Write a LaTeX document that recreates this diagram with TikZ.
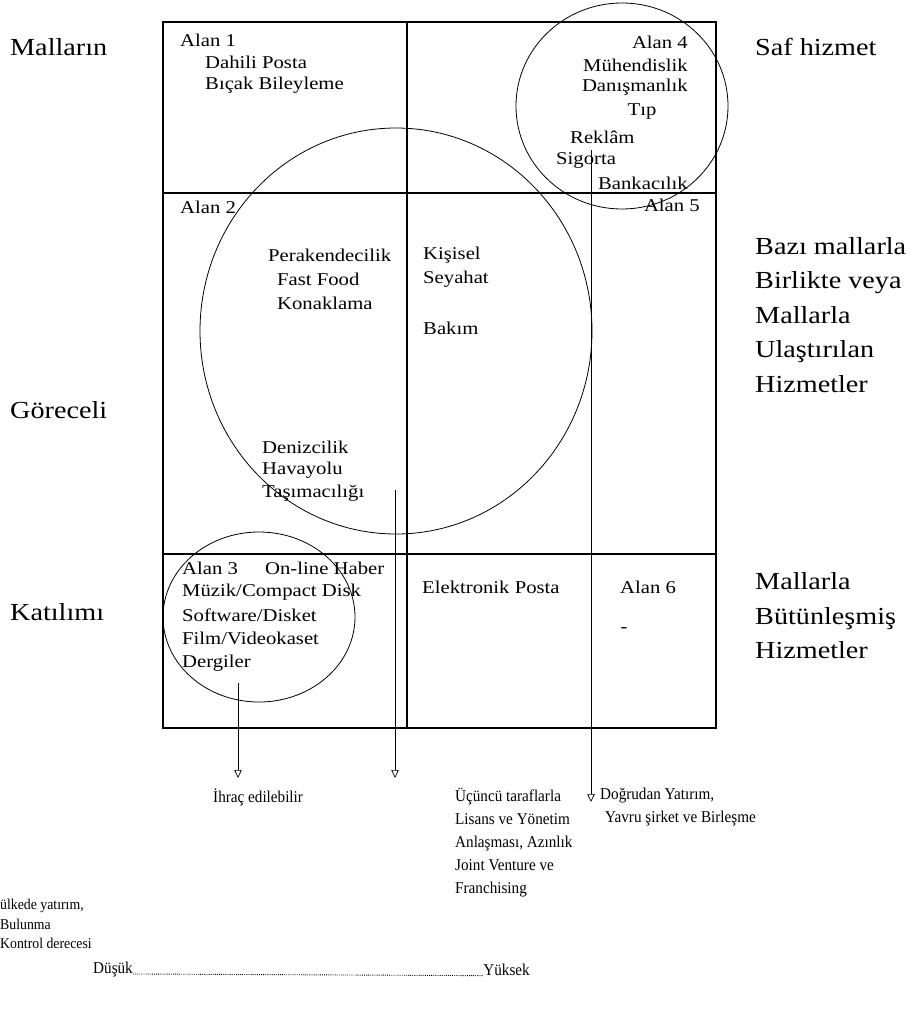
\documentclass[tikz,border=0pt]{standalone}
\usepackage{fontspec}
\setmainfont{Liberation Serif}[FakeStretch=1.15]
\newfontfamily\narrowserif{Liberation Serif}[FakeStretch=0.92]
\usetikzlibrary{positioning, arrows.meta}

\begin{document}
\begin{tikzpicture}[
  x=1pt, y=-1pt,
  cell/.style={inner sep=0pt, font=\fontsize{18}{22}\selectfont},
  side/.style={inner sep=0pt, align=left, font=\fontsize{24.5}{34.5}\selectfont},
  note/.style={inner sep=0pt, align=left, font=\narrowserif\fontsize{16.5}{23}\selectfont},
  frame/.style={line width=1.5pt},
  ring/.style={line width=0.8pt},
  arrow/.style={-{Triangle[open, length=8pt, width=7.5pt]}, line width=0.7pt},
]
\useasboundingbox (0,0) rectangle (913,1020);

% side labels
\node[side, anchor=west] (mallarin) at (10,47)  {Malların};
\node[side, anchor=west] (goreceli) at (10,410) {Göreceli};
\node[side, anchor=west] (katilimi) at (10,612) {Katılımı};
\node[side, anchor=west] (saf)      at (755,47)  {Saf hizmet};
\node[side, anchor=west] (bazi)     at (755,315) {Bazı mallarla\\Birlikte veya\\Mallarla\\Ulaştırılan\\Hizmetler};
\node[side, anchor=west] (butun)    at (755,616) {Mallarla\\Bütünleşmiş\\Hizmetler};

% grid of six areas
\draw[frame] (163,22) rectangle (716,728);
\draw[frame] (163,193) -- (716,193);
\draw[frame] (163,554) -- (716,554);
\draw[frame] (407,22) -- (407,728);

% circles
\draw[ring] (396,331) ellipse [x radius=196, y radius=203];
\draw[ring] (622,106) ellipse [x radius=106, y radius=103];
\draw[ring] (259,617) ellipse [x radius=96, y radius=85];

% Alan 1
\node[cell, anchor=west] (alan1)  at (180,40) {Alan 1};
\node[cell, anchor=west] (dahili) at (205,62) {Dahili Posta};
\node[cell, anchor=west] (bicak)  at (205,85) {Bıçak Bileyleme};

% Alan 4
\node[cell, anchor=east] (alan4)   at (688,42)  {Alan 4};
\node[cell, anchor=east] (muhendis) at (688,65) {Mühendislik};
\node[cell, anchor=east] (danis)   at (688,87)  {Danışmanlık};
\node[cell]              (tip)     at (642,112) {Tıp};
\node[cell, anchor=west] (reklam)  at (570,137) {Reklâm};
\node[cell, anchor=west] (sigorta) at (556,160) {Sigorta};
\node[cell, anchor=east] (banka)   at (688,183) {Bankacılık};

% Alan 2 and 5
\node[cell, anchor=west] (alan2)   at (180,207) {Alan 2};
\node[cell, anchor=east] (alan5)   at (700,205) {Alan 5};
\node[cell, anchor=west] (perak)   at (268,255) {Perakendecilik};
\node[cell, anchor=west] (fast)    at (277,279) {Fast Food};
\node[cell, anchor=west] (konak)   at (277,303) {Konaklama};
\node[cell, anchor=west] (kisisel) at (423,255) {Kişisel};
\node[cell, anchor=west] (seyahat) at (423,279) {Seyahat};
\node[cell, anchor=west] (bakim)   at (423,328) {Bakım};
\node[cell, anchor=west] (deniz)   at (262,447) {Denizcilik};
\node[cell, anchor=west] (havayolu) at (262,470) {Havayolu};
\node[cell, anchor=west] (tasima)  at (262,493) {Taşımacılığı};

% Alan 3 and 6
\node[cell, anchor=west] (alan3)  at (182,568) {Alan 3};
\node[cell, anchor=west] (online) at (265,568) {On-line Haber};
\node[cell, anchor=west] (muzik)  at (182,592) {Müzik/Compact Disk};
\node[cell, anchor=west] (soft)   at (182,615) {Software/Disket};
\node[cell, anchor=west] (film)   at (182,638) {Film/Videokaset};
\node[cell, anchor=west] (dergi)  at (182,663) {Dergiler};
\node[cell, anchor=west] (eposta) at (422,587) {Elektronik Posta};
\node[cell, anchor=west] (alan6)  at (620,587) {Alan 6};
\node[cell]               (alt6)  at (624,630) {-};

% entry modes
\coordinate (exportTop)  at (238,683);
\coordinate (exportTip)  at (238,778);
\coordinate (licenceTop) at (395,490);
\coordinate (licenceTip) at (395,778);
\coordinate (directTop)  at (591,150);
\coordinate (directTip)  at (591,802);
\draw[arrow] (exportTop) -- (exportTip);
\draw[arrow] (licenceTop) -- (licenceTip);
\draw[arrow] (directTop) -- (directTip);

\node[note, anchor=west] (ihrac) at (213,797) {İhraç edilebilir};
\node[note, anchor=north west] (ucuncu) at (455,788) {Üçüncü taraflarla\\Lisans ve Yönetim\\Anlaşması, Azınlık\\Joint Venture ve\\Franchising};
\node[note, anchor=north west] (dogrudan) at (600,788) {Doğrudan Yatırım,\\\hspace*{5pt}Yavru şirket ve Birleşme};

% control scale
\node[note, anchor=north west, font=\narrowserif\fontsize{15}{19.5}\selectfont] (kontrol) at (0,899) {ülkede yatırım,\\Bulunma\\Kontrol derecesi};
\node[note, anchor=west] (dusuk)  at (93,970)  {Düşük};
\node[note, anchor=east] (yuksek) at (530,970) {Yüksek};
\draw[line width=0.9pt, dash pattern=on 0.9pt off 1.2pt] (dusuk.base east) -- (yuksek.base west);
\end{tikzpicture}
\end{document}
